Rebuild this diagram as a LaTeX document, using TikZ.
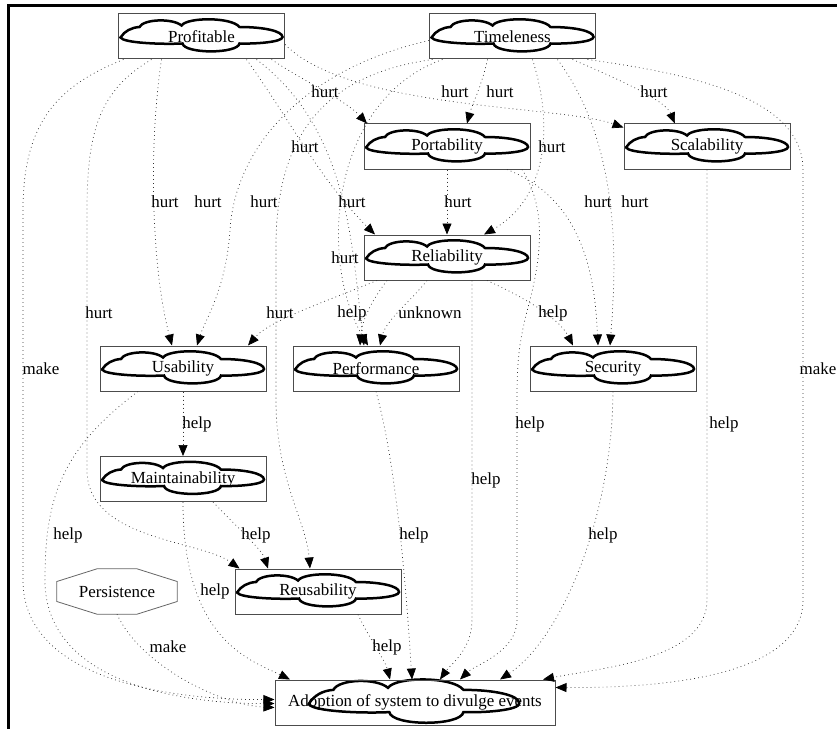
\documentclass[tikz,border=0pt]{standalone}
\usepackage{fontspec}
\setmainfont{Liberation Serif}
\usetikzlibrary{arrows.meta}
\tikzset{
  goal/.style={draw=black!70, line width=1bp, minimum width=166bp, minimum height=45bp, inner sep=0pt, font=\fontsize{17}{20}\selectfont},
  goalwide/.style={goal, minimum width=280bp},
  plainbox/.style={minimum width=120bp, minimum height=45bp, inner sep=0pt, font=\fontsize{17}{20}\selectfont},
  octline/.style={draw=black!60, line width=0.8bp},
  lbl/.style={font=\fontsize{17}{20}\selectfont, inner sep=0pt},
  edge/.style={draw=black!80, line width=0.7bp, dash pattern=on 0.8bp off 3.2bp, -{Triangle[length=11bp,width=9bp,color=black,fill=black]}},
  cloudline/.style={line width=2.5bp, black},
  softgoal/.pic={
    \draw[cloudline] (-81,1.5) .. controls (-77,-5) and (-70,-8.5) .. (-62,-9)
      .. controls (-58,-17) and (-29,-18) .. (-20,-10.5)
      .. controls (-14,-19) and (30,-19) .. (38,-9)
      .. controls (62,-9) and (81,-5) .. (81,1)
      .. controls (81,6) and (55,8) .. (38,7.5)
      .. controls (36,18) and (-17,18) .. (-19,7.5)
      .. controls (-40,8.5) and (-78,7) .. (-81,1.5) -- cycle;
  }
}
\begin{document}
\begin{tikzpicture}[x=1bp,y=-1bp]
\useasboundingbox (0,0) rectangle (837,729);
\draw[line width=3bp] (8,729) -- (8,6) -- (837,6);

% clouds
\pic at (201.5,36) {softgoal};
\pic at (512.5,36) {softgoal};
\pic at (447,146) {softgoal};
\pic at (707,146) {softgoal};
\pic at (447,257) {softgoal};
\pic at (183,368) {softgoal};
\pic at (376,368) {softgoal};
\pic at (613,368) {softgoal};
\pic at (183,478.5) {softgoal};
\pic at (318,591) {softgoal};
\pic[xscale=1.3,yscale=1.35] at (414,702) {softgoal};

% nodes
\node[goal] (prof) at (201.5,36.5) {Profitable};
\node[goal] (time) at (512.5,36.5) {Timeleness};
\node[goal] (port) at (447,146.5) {Portability};
\node[goal] (scal) at (707,146.5) {Scalability};
\node[goal] (rel) at (447,257.5) {Reliability};
\node[goal] (usa) at (183,368.5) {Usability};
\node[goal] (perf) at (376,368.5) {Performance};
\node[goal] (sec) at (613,368.5) {Security};
\node[goal] (main) at (183,479) {Maintainability};
\node[plainbox] (pers) at (117,591.5) {Persistence};
\node[goal] (reuse) at (318,591.5) {Reusability};
\node[goalwide] (adopt) at (415,702.5) {Adoption of system to divulge events};
\draw[octline] ([xshift=-20bp]pers.north) -- ([xshift=20bp]pers.north) -- ([yshift=10bp]pers.east) -- ([yshift=-10bp]pers.east)
  -- ([xshift=20bp]pers.south) -- ([xshift=-20bp]pers.south) -- ([yshift=-10bp]pers.west) -- ([yshift=10bp]pers.west) -- cycle;

% Profitable
\draw[edge] ([xshift=-78bp]prof.south) .. controls (60,85) and (23,120) .. (23,210) -- (23,580) .. controls (23,690) and (200,700) .. ([yshift=3bp]adopt.west);
\draw[edge] ([xshift=-50bp]prof.south) .. controls (100,90) and (87,130) .. (87,210) -- (87,470) .. controls (87,540) and (200,540) .. ([xshift=5bp]reuse.north west);
\draw[edge] ([xshift=-40bp]prof.south) .. controls (148,150) and (152,270) .. ([xshift=-11bp]usa.north);
\draw[edge] ([xshift=70bp]prof.south) .. controls (310,85) and (345,100) .. ([xshift=-80bp]port.north);
\draw[edge] ([yshift=-8bp]prof.east) .. controls (350,110) and (560,105) .. ([yshift=-4bp]scal.north west);
\draw[edge] ([xshift=45bp]prof.south) .. controls (290,120) and (320,180) .. ([xshift=-72bp]rel.north);
\draw[edge] ([xshift=55bp]prof.south) .. controls (350,130) and (352,250) .. ([xshift=-12bp]perf.north);

% Timeleness
\draw[edge] ([xshift=-25bp]time.south) .. controls (482,85) and (472,105) .. ([xshift=20bp]port.north);
\draw[edge] ([xshift=60bp]time.south) .. controls (620,80) and (665,100) .. ([xshift=-32bp]scal.north);
\draw[edge] ([xshift=20bp]time.south) .. controls (555,130) and (545,200) .. ([xshift=37bp]rel.north);
\draw[edge] ([xshift=45bp]time.south) .. controls (625,150) and (615,280) .. ([xshift=-3bp]sec.north);
\draw[edge] ([xshift=-70bp]time.south) .. controls (330,100) and (318,260) .. ([xshift=-8bp]perf.north);
\draw[edge] ([xshift=-80bp]time.south) .. controls (320,75) and (278,140) .. (276,240) -- (276,400) .. controls (276,480) and (306,520) .. ([xshift=-8bp]reuse.north);
\draw[edge] ([yshift=-4bp]time.west) .. controls (300,70) and (235,150) .. (230,230) .. controls (226,290) and (205,320) .. ([xshift=14bp]usa.north);
\draw[edge] ([xshift=75bp]time.south) .. controls (700,75) and (803,100) .. (803,170) -- (803,600) .. controls (803,680) and (650,688) .. ([yshift=15bp]adopt.east);

% Portability
\draw[edge] (port.south) -- (rel.north);
\draw[edge] ([xshift=60bp]port.south) .. controls (585,200) and (595,280) .. ([xshift=-15bp]sec.north);
\draw[edge] ([xshift=75bp]port.south) .. controls (548,210) and (540,260) .. (530,300) .. controls (519,340) and (517,360) .. (517,400) -- (517,620) .. controls (517,652) and (475,665) .. ([xshift=45bp]adopt.north);

% Reliability
\draw[edge] ([xshift=-70bp]rel.south) .. controls (330,300) and (270,320) .. ([xshift=65bp]usa.north);
\draw[edge] ([xshift=-60bp]rel.south) .. controls (372,300) and (362,320) .. ([xshift=-16bp]perf.north);
\draw[edge] ([xshift=-20bp]rel.south) .. controls (412,300) and (386,320) .. ([xshift=4bp]perf.north);
\draw[edge] ([xshift=40bp]rel.south) .. controls (530,300) and (560,320) .. ([xshift=-40bp]sec.north);
\draw[edge] ([xshift=25bp]rel.south) -- (472,620) .. controls (472,650) and (450,665) .. ([xshift=25bp]adopt.north);

% Usability
\draw[edge] (usa.south) -- (main.north);
\draw[edge] ([xshift=-45bp]usa.south) .. controls (60,450) and (45,500) .. (45,580) .. controls (45,690) and (200,704) .. ([yshift=-1bp]adopt.west);
% Maintainability
\draw[edge] ([xshift=30bp]main.south) .. controls (240,530) and (262,550) .. ([xshift=-50bp]reuse.north);
\draw[edge] (main.south) .. controls (183,640) and (250,660) .. ([xshift=-125bp]adopt.north);
% Performance
\draw[edge] (perf.south) .. controls (395,460) and (405,570) .. ([xshift=-3bp]adopt.north);
% Security
\draw[edge] (sec.south) .. controls (612,520) and (560,640) .. ([xshift=85bp]adopt.north);
% Scalability
\draw[edge] (scal.south) -- (707,600) .. controls (707,660) and (600,668) .. ([xshift=128bp]adopt.north);
% Reusability
\draw[edge] ([xshift=40bp]reuse.south) .. controls (370,640) and (385,660) .. ([xshift=-25bp]adopt.north);
% Persistence
\draw[edge] (pers.south) .. controls (140,665) and (220,705) .. ([yshift=-5bp]adopt.west);

% labels
\node[lbl] (h1) at (325,92) {hurt};
\node[lbl] (h2) at (455,92) {hurt};
\node[lbl] (h3) at (500,92) {hurt};
\node[lbl] (h4) at (654,92) {hurt};
\node[lbl] (h5) at (305,147) {hurt};
\node[lbl] (h6) at (552,147) {hurt};
\node[lbl] (h7) at (165,202) {hurt};
\node[lbl] (h8) at (208,202) {hurt};
\node[lbl] (h9) at (264,202) {hurt};
\node[lbl] (h10) at (352,202) {hurt};
\node[lbl] (h11) at (458,202) {hurt};
\node[lbl] (h12) at (598,202) {hurt};
\node[lbl] (h13) at (635,202) {hurt};
\node[lbl] (h14) at (345,258) {hurt};
\node[lbl] (h15) at (99,313) {hurt};
\node[lbl] (h16) at (280,313) {hurt};
\node[lbl] (p1) at (352,313) {help};
\node[lbl] (p2) at (553,313) {help};
\node[lbl] (p3) at (197,424) {help};
\node[lbl] (p4) at (530,424) {help};
\node[lbl] (p5) at (724,424) {help};
\node[lbl] (p6) at (486,480) {help};
\node[lbl] (p7) at (68,535) {help};
\node[lbl] (p8) at (256,535) {help};
\node[lbl] (p9) at (414,535) {help};
\node[lbl] (p10) at (603,535) {help};
\node[lbl] (p11) at (215,591) {help};
\node[lbl] (p12) at (387,647) {help};
\node[lbl] (u1) at (430,313) {unknown};
\node[lbl] (m1) at (41,369) {make};
\node[lbl] (m2) at (818,369) {make};
\node[lbl] (m3) at (168,647) {make};
\end{tikzpicture}
\end{document}
